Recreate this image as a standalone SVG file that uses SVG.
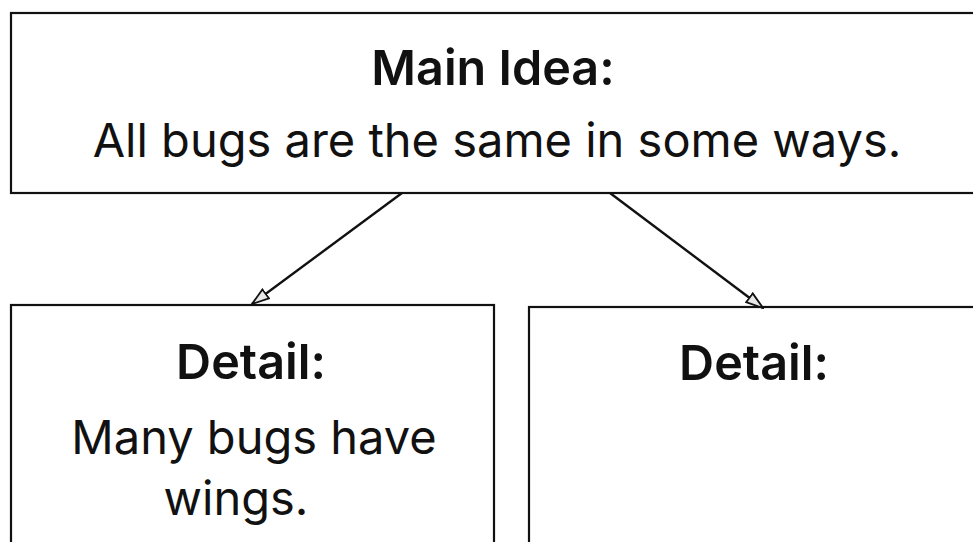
<svg xmlns="http://www.w3.org/2000/svg" width="973" height="542" viewBox="0 0 973 542">
  <style>
    .box { fill: #ffffff; stroke: #111111; stroke-width: 2.2; }
    .t { font-family: Inter, "Noto Sans", "DejaVu Sans", sans-serif; fill: #111111; text-anchor: middle; }
    .head { font-weight: 600; font-size: 48.5px; }
    .body { font-weight: 400; font-size: 47px; }
    .conn { stroke: #111111; stroke-width: 2.4; fill: none; }
  </style>
  <defs>
    <marker id="arrow" viewBox="0 0 19 14" refX="18" refY="7" markerWidth="19" markerHeight="14" markerUnits="userSpaceOnUse" orient="auto">
      <path d="M1,1.5 L18,7 L1,12.5 Z" fill="#e8e8e8" stroke="#111111" stroke-width="1.8"/>
    </marker>
  </defs>
  <rect width="973" height="542" fill="#ffffff"/>
  <g id="main-idea">
    <rect class="box" x="11" y="13" width="975" height="180"/>
    <text class="t head" x="493" y="85">Main Idea:</text>
    <text class="t body" x="497" y="157">All bugs are the same in some ways.</text>
  </g>
  <g id="detail-1">
    <rect class="box" x="11" y="305" width="483" height="260"/>
    <text class="t head" x="251" y="379">Detail:</text>
    <text class="t body" x="254" y="454">Many bugs have</text>
    <text class="t body" x="236" y="515">wings.</text>
  </g>
  <g id="detail-2">
    <rect class="box" x="529" y="307" width="460" height="260"/>
    <text class="t head" x="754" y="380">Detail:</text>
  </g>
  <g id="connectors">
    <line class="conn" x1="402" y1="193" x2="252" y2="304" marker-end="url(#arrow)"/>
    <line class="conn" x1="610" y1="193" x2="763" y2="308" marker-end="url(#arrow)"/>
  </g>
</svg>
